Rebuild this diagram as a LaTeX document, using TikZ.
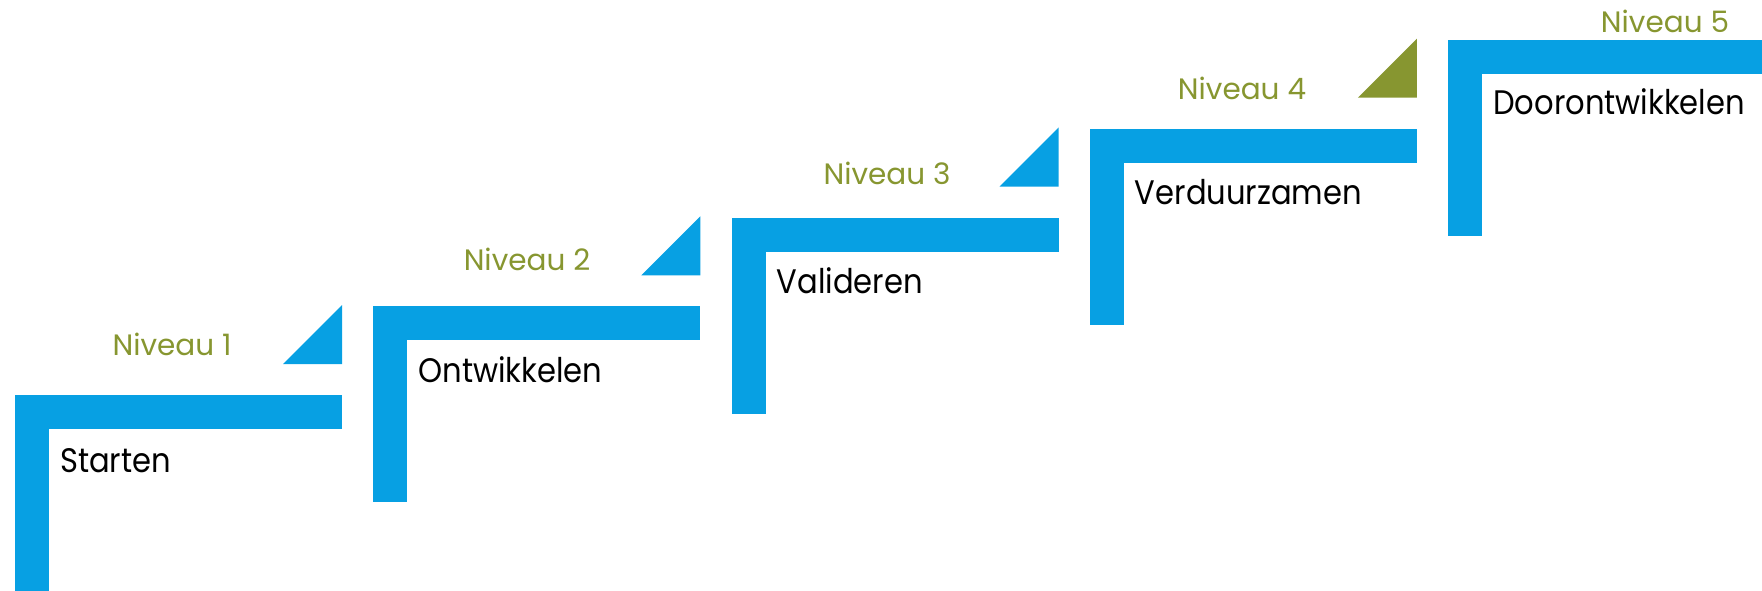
\documentclass[tikz,border=0pt]{standalone}
\usepackage{fontspec}
\setmainfont{Poppins}
\newfontfamily\namefont{Poppins}[FakeStretch=0.9]
\usetikzlibrary{positioning}
\definecolor{stepblue}{RGB}{7,160,227}
\definecolor{stepolive}{RGB}{135,150,48}

\begin{document}
\begin{tikzpicture}[x=1pt,y=-1pt,
    bar/.style={fill=stepblue,draw=none},
    flag/.style={fill=stepblue,draw=none},
    stepname/.style={anchor=base west,inner sep=0pt,font=\namefont\fontsize{34}{40}\selectfont},
    level/.style={anchor=base,inner sep=0pt,text=stepolive,font=\fontsize{29.5}{34}\selectfont}]
    \useasboundingbox (0,0) rectangle (1762,591);
    % the five steps
    \foreach \i/\len in {0/230,1/196,2/196,3/196,4/196} {
        \coordinate (s\i) at (15+358.25*\i, 395-88.75*\i);
        \fill[bar] (s\i) rectangle ++(327,34);
        \fill[bar] (s\i) rectangle ++(34,\len);
    }
    % small triangles
    \foreach \i in {0,1,2} {
        \fill[flag] ([shift={(327,-90)}]s\i) -- ++(0,59) -- ++(-59,0) -- cycle;
    }
    \fill[flag,fill=stepolive] ([shift={(327,-90)}]s3) -- ++(0,59) -- ++(-59,0) -- cycle;
    % names of the steps
    \node[stepname] (starten) at ([shift={(45,77)}]s0) {Starten};
    \node[stepname] (ontwikkelen) at ([shift={(45,76)}]s1) {Ontwikkelen};
    \node[stepname] (valideren) at ([shift={(45,76)}]s2) {Valideren};
    \node[stepname] (verduurzamen) at ([shift={(45,76)}]s3) {Verduurzamen};
    \node[stepname] (doorontwikkelen) at ([shift={(45,75)}]s4) {Doorontwikkelen};
    % levels
    \node[level] (niveau1) at (172,355) {Niveau 1};
    \node[level] (niveau2) at (527,270) {Niveau 2};
    \node[level] (niveau3) at (887,185) {Niveau 3};
    \node[level] (niveau4) at (1242,100) {Niveau 4};
    \node[level] (niveau5) at (1665,33) {Niveau 5};
\end{tikzpicture}
\end{document}
